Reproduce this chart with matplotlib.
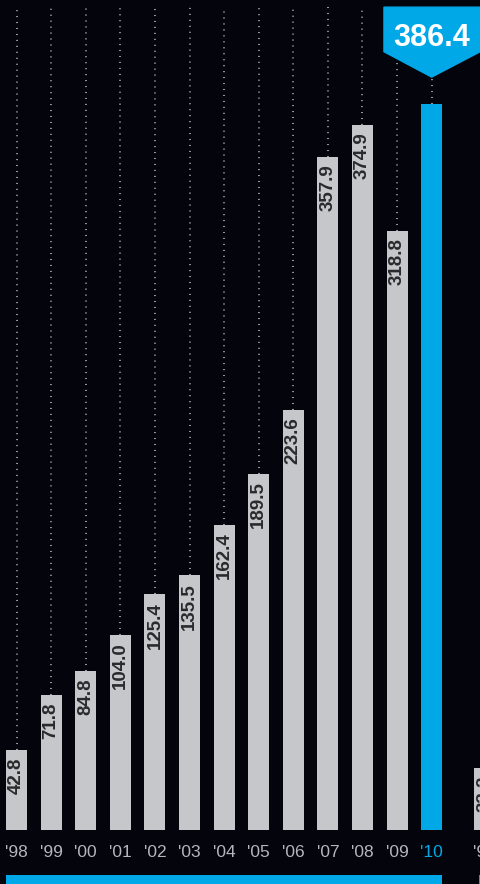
import matplotlib.pyplot as plt
from matplotlib.patches import Polygon

# data
years = ["'98", "'99", "'00", "'01", "'02", "'03", "'04", "'05", "'06", "'07", "'08", "'09", "'10"]
values = [42.8, 71.8, 84.8, 104.0, 125.4, 135.5, 162.4, 189.5, 223.6, 357.9, 374.9, 318.8, 386.4]
next_label = "'99"
next_value = 33.2

bg = '#04050c'
grey = '#c6c7ca'
blue = '#00a8e8'
font = ['Liberation Sans', 'DejaVu Sans']

fig = plt.figure(figsize=(4.8, 8.84), dpi=100, facecolor=bg)
ax = fig.add_axes([0, 0, 1, 1])
ax.set_facecolor(bg)
ax.set_xlim(-0.477, 13.396)
ax.set_ylim(-28.7, 441.5)
ax.axis('off')

n = len(values)
xs = list(range(n))
colors = [grey] * (n - 1) + [blue]
w = 0.61
top_val = 437.7

ax.bar(xs, values, width=w, color=colors, zorder=2)

# dotted guide lines
for i, v in enumerate(values):
    y_end = 400.5 if i == n - 1 else top_val
    ax.plot([i, i], [v, y_end], color='#a3a5aa', lw=1.3, dashes=(0.6, 2.7), zorder=1)

# value labels inside bars
for i, v in enumerate(values[:-1]):
    ax.text(i, v - 4, f'{v:.1f}', rotation=90, ha='center', va='top',
            fontsize=13.5, fontweight='bold', color='#2a2a2c',
            family=font, zorder=3)

# year tick labels
for i, lab in enumerate(years):
    ax.text(i, -12, lab, ha='center', va='center', fontsize=12.5, family=font,
            color=blue if i == n - 1 else '#b4b6bb')

# partial next group at right edge
nx = 13.53
ax.bar([nx], [next_value], width=w, color=grey, zorder=2)
ax.text(nx, next_value - 4, f'{next_value:.1f}', rotation=90, ha='center', va='top',
        fontsize=13.5, fontweight='bold', color='#2a2a2c', family=font, zorder=3)
ax.text(nx, -12, next_label, ha='center', va='center', fontsize=12.5, family=font,
        color='#b4b6bb')

# blue strip at bottom
ax.bar([6.0], [4.8], bottom=-28.7, width=12.6, color=blue)
ax.bar([13.66], [4.8], bottom=-28.7, width=0.6, color=blue)

# callout
poly = Polygon([(10.62, 437.7), (13.4, 437.7), (13.4, 414), (12, 400.5), (10.62, 414)],
               closed=True, color=blue, zorder=4)
ax.add_patch(poly)
ax.text(12, 421.5, f'{values[-1]:.1f}', ha='center', va='center', fontsize=22,
        fontweight='bold', color='white', family=font, zorder=5)

fig.savefig('out.png', dpi=100, facecolor=bg)
